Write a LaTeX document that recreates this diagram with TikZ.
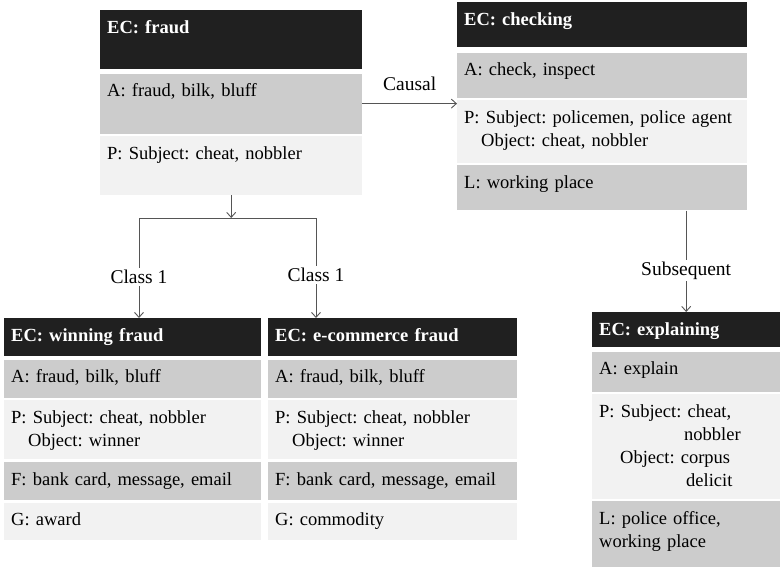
\documentclass[tikz,border=0pt]{standalone}
\usepackage{fontspec}
\setmainfont{Liberation Serif}
\usetikzlibrary{arrows.meta,positioning}
\definecolor{hdrblack}{RGB}{32,32,32}
\definecolor{rowgray}{RGB}{204,204,204}
\definecolor{rowlight}{RGB}{242,242,242}
\definecolor{linkgray}{RGB}{85,85,85}
\frenchspacing
\tikzset{
  cell/.style={
    anchor=north west,
    align=left,
    inner xsep=7pt,
    inner ysep=0pt,
    text height=23pt,
    font=\fontsize{18.5}{23}\selectfont
  },
  hdr/.style={
    cell,
    fill=hdrblack,
    text=white,
    font=\fontsize{18.5}{23}\selectfont\bfseries
  },
  dark/.style={cell, fill=rowgray},
  light/.style={cell, fill=rowlight},
  link/.style={
    -{Straight Barb[length=5pt,width=9pt]},
    line width=0.9pt,
    linkgray
  },
  edge/.style={line width=0.9pt, linkgray},
  lbl/.style={fill=white, text=black, inner sep=2pt, font=\fontsize{19.5}{22}\selectfont}
}

\begin{document}
\begin{tikzpicture}[x=1pt,y=-1pt]
\useasboundingbox (0,0) rectangle (780,566);

% EC: fraud
\node[hdr, text width=248pt, text depth=36pt] (fH) at (100,10) {EC: fraud};
\node[dark, text width=248pt, text depth=37pt, below=4pt of fH.south west, anchor=north west] (fA) {A: fraud, bilk, bluff};
\node[light, text width=248pt, text depth=36pt, below=2pt of fA.south west, anchor=north west] (fP) {P: Subject: cheat, nobbler};

% EC: checking
\node[hdr, text width=276pt, text depth=22pt] (cH) at (457,2) {EC: checking};
\node[dark, text width=276pt, text depth=22pt, below=5pt of cH.south west, anchor=north west] (cA) {A: check, inspect};
\node[light, text width=276pt, text depth=40pt, below=2pt of cA.south west, anchor=north west] (cP) {P: Subject: policemen, police agent\\\hspace*{17pt}Object: cheat, nobbler};
\node[dark, text width=276pt, text depth=22pt, below=2pt of cP.south west, anchor=north west] (cL) {L: working place};

% EC: explaining
\node[hdr, text width=174pt, text depth=12pt] (xH) at (592,312) {EC: explaining};
\node[dark, text width=174pt, text depth=17pt, below=4pt of xH.south west, anchor=north west] (xA) {A: explain};
\node[light, text width=174pt, text depth=82pt, below=2pt of xA.south west, anchor=north west] (xP) {P: Subject: cheat,\\\hspace*{85pt}nobbler\\\hspace*{21pt}Object: corpus\\\hspace*{87pt}delicit};
\node[dark, text width=174pt, text depth=44pt, below=2pt of xP.south west, anchor=north west] (xL) {L: police office,\\working place};

% EC: winning fraud
\node[hdr, text width=243pt, text depth=15pt] (wH) at (4,318) {EC: winning fraud};
\node[dark, text width=243pt, text depth=15pt, below=3pt of wH.south west, anchor=north west] (wA) {A: fraud, bilk, bluff};
\node[light, text width=243pt, text depth=36pt, below=2pt of wA.south west, anchor=north west] (wP) {P: Subject: cheat, nobbler\\\hspace*{17pt}Object: winner};
\node[dark, text width=243pt, text depth=15pt, below=3pt of wP.south west, anchor=north west] (wF) {F: bank card, message, email};
\node[light, text width=243pt, text depth=14pt, below=2pt of wF.south west, anchor=north west] (wG) {G: award};

% EC: e-commerce fraud
\node[hdr, text width=235pt, text depth=15pt] (eH) at (268,318) {EC: e-commerce fraud};
\node[dark, text width=235pt, text depth=15pt, below=3pt of eH.south west, anchor=north west] (eA) {A: fraud, bilk, bluff};
\node[light, text width=235pt, text depth=36pt, below=2pt of eA.south west, anchor=north west] (eP) {P: Subject: cheat, nobbler\\\hspace*{17pt}Object: winner};
\node[dark, text width=235pt, text depth=15pt, below=3pt of eP.south west, anchor=north west] (eF) {F: bank card, message, email};
\node[light, text width=235pt, text depth=14pt, below=2pt of eF.south west, anchor=north west] (eG) {G: commodity};

% links
\coordinate (jl) at (139,218);
\coordinate (jr) at (316,218);
\draw[link] (fP.south) -- (fP.south |- jl);
\draw[edge] (jl) -- (jr);
\draw[link] (jl) -- node[lbl, pos=.59] {Class 1} (jl |- wH.north);
\draw[link] (jr) -- node[lbl, pos=.57] {Class 1} (jr |- eH.north);
\draw[link] (fA.east) -- node[lbl, above=10pt] {Causal} (fA.east -| cP.west);
\draw[link] (xH.north |- cL.south) -- node[lbl, pos=.59] {Subsequent} (xH.north);
\end{tikzpicture}
\end{document}
